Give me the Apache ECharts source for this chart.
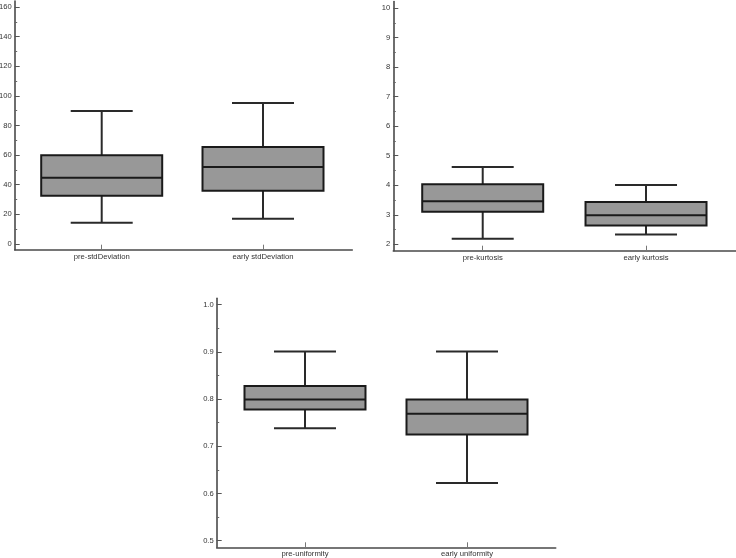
<!DOCTYPE html>
<html>
<head>
<meta charset="utf-8">
<script src="https://cdn.jsdelivr.net/npm/echarts@6/dist/echarts.min.js"></script>
<style>html,body{margin:0;padding:0;background:#fff}#c{width:736px;height:558px}</style>
</head>
<body>
<div id="c"></div>
<script>
// ---- data: [min, Q1, median, Q3, max] ----
const catsStd = ['pre-stdDeviation', 'early stdDeviation'];
const preStd = [14.4, 32.6, 44.8, 59.9, 89.8];
const earlyStd = [17.1, 36.0, 52.0, 65.5, 95.2];
const ticksStd = [0, 20, 40, 60, 80, 100, 120, 140, 160];
const minorStd = [10, 30, 50, 70, 90, 110, 130, 150];

const catsKurt = ['pre-kurtosis', 'early kurtosis'];
const preKurt = [2.19, 3.10, 3.46, 4.03, 4.62];
const earlyKurt = [2.33, 2.64, 2.98, 3.43, 4.01];
const ticksKurt = [2, 3, 4, 5, 6, 7, 8, 9, 10];
const minorKurt = [2.5, 3.5, 4.5, 5.5, 6.5, 7.5, 8.5, 9.5];

const catsUni = ['pre-uniformity', 'early uniformity'];
const preUni = [0.738, 0.778, 0.799, 0.828, 0.901];
const earlyUni = [0.622, 0.725, 0.769, 0.799, 0.901];
const ticksUni = [0.5, 0.6, 0.7, 0.8, 0.9, 1.0];
const minorUni = [0.55, 0.65, 0.75, 0.85, 0.95];

const FONT = 'Liberation Sans, Arial, sans-serif';
const LBL = '#333';
const AX = '#4a4a4a';

function renderBox(params, api) {
  const x = api.value(0);
  const lo = api.coord([x, api.value(1)]);
  const q1 = api.coord([x, api.value(2)]);
  const med = api.coord([x, api.value(3)]);
  const q3 = api.coord([x, api.value(4)]);
  const hi = api.coord([x, api.value(5)]);
  const cx = lo[0];
  const bw = 121, cw = 62;
  const wStyle = { stroke: '#2a2a2a', lineWidth: 2 };
  return {
    type: 'group',
    children: [
      { type: 'line', shape: { x1: cx, y1: q3[1], x2: cx, y2: hi[1] }, style: wStyle },
      { type: 'line', shape: { x1: cx, y1: q1[1], x2: cx, y2: lo[1] }, style: wStyle },
      { type: 'line', shape: { x1: cx - cw / 2, y1: hi[1], x2: cx + cw / 2, y2: hi[1] }, style: wStyle },
      { type: 'line', shape: { x1: cx - cw / 2, y1: lo[1], x2: cx + cw / 2, y2: lo[1] }, style: wStyle },
      { type: 'rect', shape: { x: cx - bw / 2, y: q3[1], width: bw, height: q1[1] - q3[1] },
        style: { fill: '#989898', stroke: '#1a1a1a', lineWidth: 2 } },
      { type: 'line', shape: { x1: cx - bw / 2, y1: med[1], x2: cx + bw / 2, y2: med[1] },
        style: { stroke: '#1a1a1a', lineWidth: 2 } }
    ]
  };
}

const grids = [
  { left: 14.7, top: 1, width: 337.6, height: 248.7 },
  { left: 393.3, top: 1.6, width: 342.7, height: 249.1 },
  { left: 216.7, top: 298.3, width: 339, height: 249 }
].map(g => Object.assign({ outerBoundsMode: 'none', containLabel: false }, g));

const xRanges = [[-0.5394, 1.5536], [-0.5475, 1.551], [-0.545, 1.5475]];
const yRanges = [[-3.85, 164.05], [1.783, 10.217], [0.486, 1.01356]];
const catsAll = [catsStd, catsKurt, catsUni];
const ticksAll = [ticksStd, ticksKurt, ticksUni];
const minorAll = [minorStd, minorKurt, minorUni];
const dataAll = [[preStd, earlyStd], [preKurt, earlyKurt], [preUni, earlyUni]];
const fmtAll = [v => String(v), v => String(v), v => v.toFixed(1)];

const xAxis = [], yAxis = [], series = [];
for (let i = 0; i < 3; i++) {
  const cats = catsAll[i];
  const idx = cats.map((c, k) => k);
  xAxis.push({
    type: 'value', gridIndex: i, min: xRanges[i][0], max: xRanges[i][1], position: 'bottom',
    splitLine: { show: false },
    axisLine: { show: true, onZero: false, lineStyle: { color: AX, width: 1.6 } },
    axisTick: { show: true, inside: true, length: 5, customValues: idx, lineStyle: { color: '#777', width: 1 } },
    axisLabel: { show: true, customValues: idx, margin: 3, fontSize: 7.7, fontFamily: FONT, color: LBL,
      formatter: v => cats[Math.round(v)] }
  });
  // major y axis
  yAxis.push({
    type: 'value', gridIndex: i, min: yRanges[i][0], max: yRanges[i][1], position: 'left',
    splitLine: { show: false },
    axisLine: { show: true, onZero: false, lineStyle: { color: AX, width: 1.6 } },
    axisTick: { show: true, inside: true, length: 5, customValues: ticksAll[i], lineStyle: { color: '#555', width: 1 } },
    axisLabel: { show: true, customValues: ticksAll[i], margin: 3, fontSize: 7.6, fontFamily: FONT, color: LBL,
      formatter: fmtAll[i] }
  });
  // minor y ticks
  yAxis.push({
    type: 'value', gridIndex: i, min: yRanges[i][0], max: yRanges[i][1], position: 'left', offset: 0,
    splitLine: { show: false },
    axisLine: { show: false, onZero: false },
    axisTick: { show: true, inside: true, length: 2.5, customValues: minorAll[i], lineStyle: { color: '#666', width: 1 } },
    axisLabel: { show: false }
  });
  series.push({
    type: 'custom', xAxisIndex: i, yAxisIndex: 2 * i, renderItem: renderBox,
    encode: { x: 0, y: [1, 2, 3, 4, 5] },
    data: dataAll[i].map((d, k) => [k].concat(d)),
    clip: false, silent: true
  });
}

const chart = echarts.init(document.getElementById('c'), null, { renderer: 'canvas' });
chart.setOption({ animation: false, grid: grids, xAxis, yAxis, series });
</script>
</body>
</html>
